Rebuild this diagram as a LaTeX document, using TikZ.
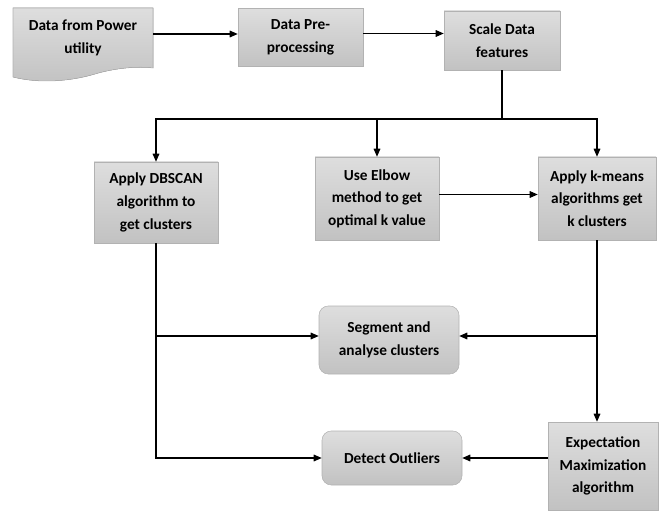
\documentclass[tikz,border=0pt]{standalone}
\usepackage{fontspec}
\setmainfont{Carlito}
\usetikzlibrary{arrows.meta}
\tikzset{
  box/.style={draw=black!30, top color=black!13, bottom color=black!24, align=center,
    font=\fontsize{11.5}{17}\selectfont\bfseries, inner sep=2pt},
  roundbox/.style={box, rounded corners=7pt},
  arrow/.style={-{Triangle[length=6pt,width=5pt]}, thick},
  line/.style={thick}
}
\begin{document}
\begin{tikzpicture}[x=0.75pt, y=-0.75pt]
  \useasboundingbox (0,0) rectangle (660,513);

  % Document shape (source)
  \fill[top color=black!13, bottom color=black!24, draw=black!30]
    (13,8) -- (153,8) -- (153,68)
    .. controls (138,66) and (115,68) .. (95,74)
    .. controls (72,81) and (40,84) .. (13,77) -- cycle;
  \node[align=center, font=\fontsize{11.5}{17}\selectfont\bfseries,
        minimum width=105pt, minimum height=45pt] (src) at (83,38) {Data from Power\\utility};

  % Top row
  \node[box, minimum width=93.75pt, minimum height=43.5pt] (pre) at (300.5,37.5) {Data Pre-\\processing};
  \node[box, minimum width=87pt, minimum height=44.25pt] (scale) at (502,40.5) {Scale Data\\features};

  % Middle row
  \node[box, minimum width=93pt, minimum height=60.75pt] (dbscan) at (156,202.5) {Apply DBSCAN\\algorithm to\\get clusters};
  \node[box, minimum width=93pt, minimum height=62.25pt] (elbow) at (377,198.5) {Use Elbow\\method to get\\optimal k value};
  \node[box, minimum width=88.5pt, minimum height=62.25pt] (kmeans) at (597,198.5) {Apply k-means\\algorithms get\\k clusters};

  % Results
  \node[roundbox, minimum width=105pt, minimum height=51pt] (segment) at (389,340) {Segment and\\analyse clusters};
  \node[roundbox, minimum width=105pt, minimum height=40.5pt] (detect) at (392,458) {Detect Outliers};
  \node[box, minimum width=82.5pt, minimum height=66pt] (em) at (603,466) {Expectation\\Maximization\\algorithm};

  % Connectors
  \draw[arrow] ([yshift=3pt]src.east) -- ([yshift=3pt]src.east -| pre.west);
  \draw[arrow] ([yshift=3pt]pre.east) -- ([yshift=3pt]pre.east -| scale.west);
  \coordinate (split) at (502,119);
  \draw[line] (scale.south) -- (split);
  \draw[arrow] (split) -| (dbscan.north);
  \draw[arrow] (split) -| (elbow.north);
  \draw[arrow] (split) -| (kmeans.north);
  \draw[arrow] ([yshift=3pt]elbow.east) -- ([yshift=3pt]kmeans.west);
  \draw[arrow] (kmeans.south) -- (kmeans.south |- em.north);
  \draw[arrow] ([yshift=3pt]kmeans.south |- segment.east) -- ([yshift=3pt]segment.east);
  \draw[arrow] (dbscan.south) |- (detect.west);
  \draw[arrow] ([yshift=3pt]dbscan.south |- segment.west) -- ([yshift=3pt]segment.west);
  \draw[arrow] (em.west |- detect.east) -- (detect.east);
\end{tikzpicture}
\end{document}
